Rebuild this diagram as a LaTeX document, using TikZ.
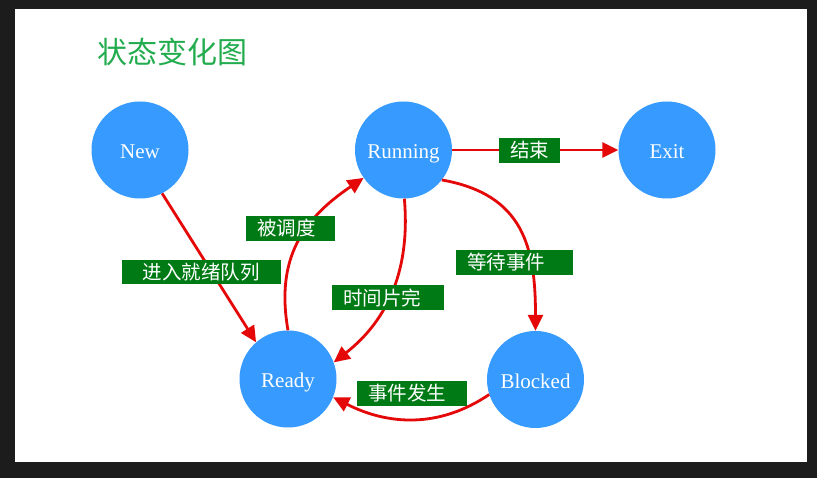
\documentclass[tikz,border=0pt]{standalone}
\usepackage{fontspec}
\setmainfont{Liberation Serif}
\newfontfamily\cjk{Noto Sans CJK SC}
\usetikzlibrary{arrows.meta}
\definecolor{framebg}{RGB}{28,28,28}
\definecolor{stateblue}{RGB}{54,154,255}
\definecolor{lblgreen}{RGB}{0,122,20}
\definecolor{arrred}{RGB}{228,8,8}
\definecolor{titlegreen}{RGB}{34,172,78}
\begin{document}
\begin{tikzpicture}[x=1pt,y=1pt,
  state/.style={circle,fill=stateblue,minimum size=97pt,inner sep=0pt,text=white,
    text height=18pt,text depth=0pt,font=\fontsize{21}{23}\selectfont},
  lbl/.style={fill=lblgreen,text=white,inner xsep=11pt,inner ysep=0pt,align=left,
    minimum height=25pt,font=\cjk\fontsize{19.5}{21}\selectfont},
  arr/.style={draw=arrred,line width=2.8pt,-{Triangle[length=16pt,width=15pt]}}]
\fill[framebg] (0,0) rectangle (817,478);
\fill[white] (15,16) rectangle (807,469);
\useasboundingbox (0,0) rectangle (817,478);
% title
\node[anchor=west,text=titlegreen,font=\cjk\fontsize{30}{32}\selectfont,inner sep=0pt] (title) at (97,426) {状态变化图};
% states
\node[state] (new) at (140,328) {New};
\node[state] (running) at (403.5,328) {Running};
\node[state] (exit) at (667,328) {Exit};
\node[state] (ready) at (288,99) {Ready};
\node[state] (blocked) at (535.5,98.5) {Blocked};
% transitions
\draw[arr] (new.-63) -- (ready.131);
\draw[arr] (ready.90) to[out=100,in=214,looseness=1.1] (running.215);
\draw[arr] (running.-89) to[out=-85,in=38] (ready.20);
\draw[arr] (running.0) -- (exit.180);
\draw[arr] (running.-38) to[out=-10,in=90,looseness=1.2] (blocked.90);
\draw[arr] (blocked.198) to[out=214,in=-27] (ready.-22);
% labels
\node[lbl,text width=39pt] (l1) at (529.5,327.5) {结束};
\node[lbl,text width=95pt] (l2) at (514.5,215.5) {等待事件};
\node[lbl,text width=67pt] (l3) at (290.5,249.5) {被调度};
\node[lbl,inner xsep=21pt,text width=117pt,minimum height=24pt] (l4) at (201,206) {进入就绪队列};
\node[lbl,text width=90pt] (l5) at (388,180) {时间片完};
\node[lbl,text width=88pt] (l6) at (412,84.5) {事件发生};
\end{tikzpicture}
\end{document}
